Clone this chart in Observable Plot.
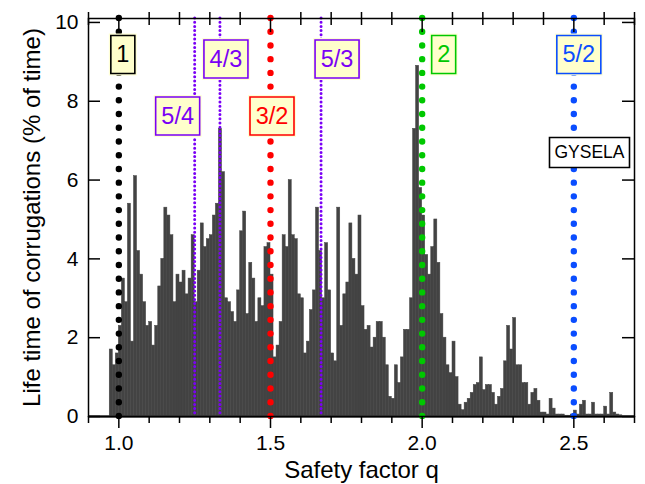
<!DOCTYPE html>
<html>
<head>
<meta charset="utf-8">
<script src="https://cdn.jsdelivr.net/npm/d3@7"></script>
<script src="https://cdn.jsdelivr.net/npm/@observablehq/plot@0.6"></script>
<style>
  body { margin: 0; background: #fff; }
  #chart svg { display: block; }
</style>
</head>
<body>
<div id="chart"></div>
<script>
// Histogram of corrugation life time versus safety factor q (bins of 0.01 starting at q = 0.97)
const binStart = 0.97;
const binWidth = 0.01;
const lifetime = [
  1.7, 1.3, 1.6, 2.3, 3.5, 2.9, 5.4, 1.9, 6.1, 4.2,
  3.6, 2.9, 2.3, 2.4, 1.8, 2.3, 3.3, 4.0, 5.3, 5.1,
  4.6, 2.9, 3.6, 3.4, 3.7, 3.1, 3.5, 4.6, 2.9, 3.7,
  4.9, 4.3, 4.5, 4.6, 5.1, 5.4, 7.3, 6.2, 3.0, 2.9,
  2.65, 2.4, 3.2, 4.7, 5.2, 2.6, 3.9, 3.5, 2.4, 3.0,
  2.8, 4.3, 4.4, 3.6, 1.5, 1.8, 2.4, 4.6, 4.3, 6.0,
  4.6, 4.5, 3.1, 3.0, 1.6, 1.9, 2.7, 3.2, 5.3, 4.2,
  3.0, 4.4, 3.2, 1.6, 1.4, 5.3, 2.3, 3.1, 3.4, 4.9,
  4.0, 3.6, 5.1, 2.8, 2.2, 2.3, 1.75, 2.0, 2.4, 2.4,
  2.0, 1.3, 0.5, 0.45, 1.3, 0.85, 1.5, 2.2, 2.2, 3.0,
  7.3, 8.9, 5.8, 5.1, 4.1, 3.6, 4.3, 5.0, 3.9, 2.6,
  2.0, 1.3, 1.1, 1.9, 1.0, 0.3, 0.16, 0.35, 0.45, 0.6,
  0.8, 0.85, 1.5, 0.67, 0.8, 0.8, 0.6, 0.3, 0.5, 0.7,
  1.4, 2.3, 1.7, 2.5, 1.3, 1.3, 0.85, 0.85, 0.3, 0.6,
  0.7, 0.4, 0.1, 0.1, 0.05, 0.45, 0.2, 0.05, 0.05, 0.05,
  0.02, 0.02, 0.05, 0.15, 0.05, 0.3, 0.4, 0.05, 0.05, 0.35,
  0.05, 0.05, 0.05, 0.25, 0.05, 0.6, 0.1, 0.05, 0.03
];

// Rational surfaces q = m/n
const ratioNames = ["1", "5/4", "4/3", "3/2", "5/3", "2", "5/2"];
const ratioValues = [1, 5 / 4, 4 / 3, 3 / 2, 5 / 3, 2, 5 / 2];

const xTicks = [1.0, 1.5, 2.0, 2.5];
const xMinorTicks = [0.9, 1.1, 1.2, 1.3, 1.4, 1.6, 1.7, 1.8, 1.9, 2.1, 2.2, 2.3, 2.4, 2.6, 2.7];
const yTicks = [0, 2, 4, 6, 8, 10];

const codeName = "GYSELA";
const xTitle = "Safety factor q";
const yTitle = "Life time of corrugations (% of time)";

// ---- layout and styling ----
const W = 645, H = 484;
const mL = 88, mR = 11, mT = 18, mB = 68;
const fw = W - mL - mR, fh = H - mT - mB;
const bigDots = `0 ${(fh - 0.1) / 29}`;
const purple = "#7a00f5";
const ratioStyle = {
  "1":   {color: "#000000", big: true,  dx: 4,    dy: 36},
  "5/4": {color: purple,    big: false, dx: -17,  dy: 97.5},
  "4/3": {color: purple,    big: false, dx: 6,    dy: 40.5},
  "3/2": {color: "#ff0000", big: true,  dx: 1.5,  dy: 97.5},
  "5/3": {color: purple,    big: false, dx: 16,   dy: 40.5},
  "2":   {color: "#00c800", big: true,  dx: 21.5, dy: 36},
  "5/2": {color: "#0a4dff", big: true,  dx: 5,    dy: 36}
};

// rectangular marker drawn around a label
const boxSymbol = (w, h) => ({draw(context) { context.rect(-w / 2, -h / 2, w, h); }});

const bins = lifetime.map((v, i) => ({
  q0: +(binStart + i * binWidth).toFixed(4),
  q1: +(binStart + (i + 1) * binWidth).toFixed(4),
  v
}));
const ratios = ratioNames.map((name, i) => ({name, q: ratioValues[i], ...ratioStyle[name]}));

const lineMarks = ratios.map(r => Plot.ruleX([r], {
  x: "q",
  stroke: r.color,
  strokeWidth: r.big ? 6.4 : 3,
  strokeDasharray: r.big ? bigDots : "0 4.2",
  strokeLinecap: "round"
}));

const labelMarks = ratios.flatMap(r => {
  const w = r.name.length > 1 ? 44 : 24, h = 38;
  const at = {x: "q", frameAnchor: "top", dx: r.dx, dy: r.dy};
  return [
    Plot.dot([r], {...at, r: 10, symbol: boxSymbol(w + 4, h + 4), fill: "#ffffd6", stroke: "none"}),
    Plot.dot([r], {...at, r: 10, symbol: boxSymbol(w, h), fill: "#ffffcc", stroke: r.color, strokeWidth: 1.6}),
    Plot.text([r], {...at, text: "name", fill: r.color, fontSize: 23.5,
      textAnchor: "middle", lineAnchor: "middle"})
  ];
});

const codeAt = {frameAnchor: "top-right", dx: -45, dy: 134};

const chart = Plot.plot({
  width: W,
  height: H,
  marginLeft: mL,
  marginRight: mR,
  marginTop: mT,
  marginBottom: mB,
  style: {fontFamily: "'Liberation Sans', Arial, sans-serif", fontSize: "21px", color: "#000", background: "#fff"},
  x: {domain: [0.9, 2.7], axis: null},
  y: {domain: [0, 10.1], axis: null},
  marks: [
    Plot.ruleY([0], {stroke: "#444", strokeWidth: 2.5}),
    Plot.rectY(bins, {x1: "q0", x2: "q1", y: "v", fill: "#434343", stroke: "#434343", strokeWidth: 0.5}),
    ...lineMarks,
    Plot.frame({stroke: "#000", strokeWidth: 1.5}),
    // bottom axis: labelled major ticks and minor ticks, pointing out
    Plot.axisX(xTicks, {anchor: "bottom", tickSize: 12, tickPadding: 7, strokeWidth: 1.5,
      tickFormat: d3.format(".1f"), fontSize: 21, label: null}),
    Plot.axisX(xMinorTicks, {anchor: "bottom", tickSize: 7, strokeWidth: 1.5,
      tickFormat: () => "", label: null}),
    // top axis: minor ticks across the frame, major ticks pointing in
    Plot.tickX(xMinorTicks, {x: d => d, insetTop: -6, insetBottom: fh - 7, stroke: "#000", strokeWidth: 1.5}),
    Plot.tickX(xTicks, {x: d => d, insetBottom: fh - 14, stroke: "#000", strokeWidth: 1.5}),
    // left and right axes with inward ticks
    Plot.axisY(yTicks, {anchor: "left", tickSize: 0, tickPadding: 10, fontSize: 21, label: null}),
    Plot.tickY(yTicks, {y: d => d, insetRight: fw - 12, stroke: "#000", strokeWidth: 1.5}),
    Plot.tickY(yTicks, {y: d => d, insetLeft: fw - 12, stroke: "#000", strokeWidth: 1.5}),
    ...labelMarks,
    Plot.dot([codeName], {...codeAt, r: 10, symbol: boxSymbol(80, 30), fill: "#fff", stroke: "#000", strokeWidth: 1.6}),
    Plot.text([codeName], {...codeAt, text: d => d, fontSize: 17.5, fill: "#000",
      textAnchor: "middle", lineAnchor: "middle"}),
    Plot.text([xTitle], {text: d => d, frameAnchor: "bottom", dy: 54, fontSize: 24,
      textAnchor: "middle", lineAnchor: "middle", fill: "#000"}),
    Plot.text([yTitle], {text: d => d, frameAnchor: "left", dx: -56, rotate: -90, fontSize: 24,
      textAnchor: "middle", lineAnchor: "middle", fill: "#000"})
  ]
});

document.getElementById("chart").append(chart);
</script>
</body>
</html>
